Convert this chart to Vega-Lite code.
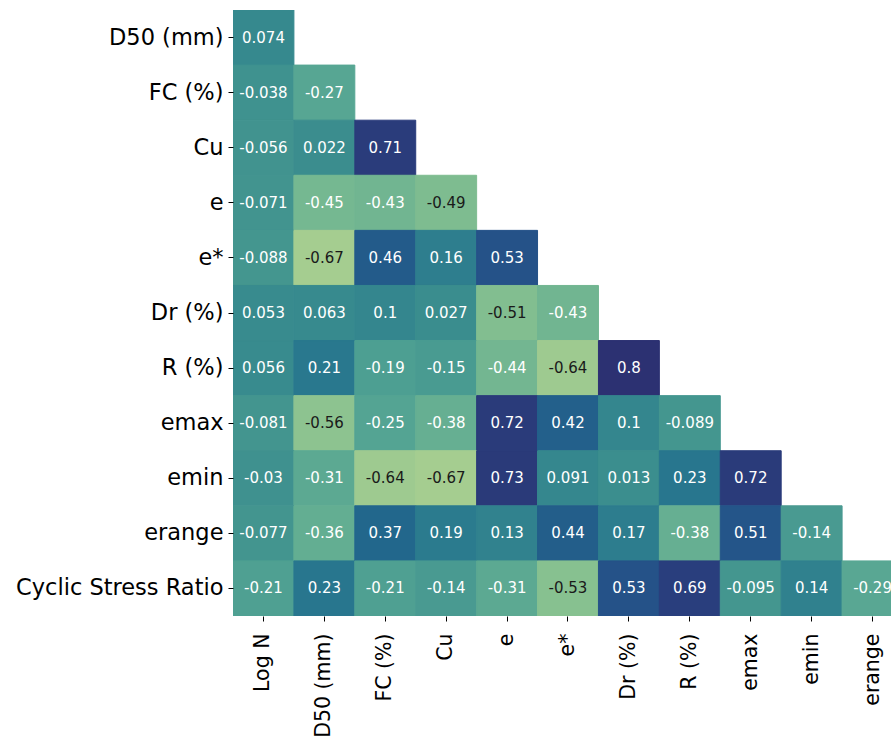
{
  "$schema": "https://vega.github.io/schema/vega-lite/v6.json",
  "width": 658,
  "height": 606,
  "autosize": "none",
  "padding": {"left": 233, "top": 10, "right": 0, "bottom": 126},
  "background": "white",
  "config": {"view": {"stroke": null}, "font": "DejaVu Sans"},
  "data": {"values": [
    {"row": "D50 (mm)", "col": "Log N", "v": 0.074},
    {"row": "FC (%)", "col": "Log N", "v": -0.038},
    {"row": "FC (%)", "col": "D50 (mm)", "v": -0.27},
    {"row": "Cu", "col": "Log N", "v": -0.056},
    {"row": "Cu", "col": "D50 (mm)", "v": 0.022},
    {"row": "Cu", "col": "FC (%)", "v": 0.71},
    {"row": "e", "col": "Log N", "v": -0.071},
    {"row": "e", "col": "D50 (mm)", "v": -0.45},
    {"row": "e", "col": "FC (%)", "v": -0.43},
    {"row": "e", "col": "Cu", "v": -0.49},
    {"row": "e*", "col": "Log N", "v": -0.088},
    {"row": "e*", "col": "D50 (mm)", "v": -0.67},
    {"row": "e*", "col": "FC (%)", "v": 0.46},
    {"row": "e*", "col": "Cu", "v": 0.16},
    {"row": "e*", "col": "e", "v": 0.53},
    {"row": "Dr (%)", "col": "Log N", "v": 0.053},
    {"row": "Dr (%)", "col": "D50 (mm)", "v": 0.063},
    {"row": "Dr (%)", "col": "FC (%)", "v": 0.1},
    {"row": "Dr (%)", "col": "Cu", "v": 0.027},
    {"row": "Dr (%)", "col": "e", "v": -0.51},
    {"row": "Dr (%)", "col": "e*", "v": -0.43},
    {"row": "R (%)", "col": "Log N", "v": 0.056},
    {"row": "R (%)", "col": "D50 (mm)", "v": 0.21},
    {"row": "R (%)", "col": "FC (%)", "v": -0.19},
    {"row": "R (%)", "col": "Cu", "v": -0.15},
    {"row": "R (%)", "col": "e", "v": -0.44},
    {"row": "R (%)", "col": "e*", "v": -0.64},
    {"row": "R (%)", "col": "Dr (%)", "v": 0.8},
    {"row": "emax", "col": "Log N", "v": -0.081},
    {"row": "emax", "col": "D50 (mm)", "v": -0.56},
    {"row": "emax", "col": "FC (%)", "v": -0.25},
    {"row": "emax", "col": "Cu", "v": -0.38},
    {"row": "emax", "col": "e", "v": 0.72},
    {"row": "emax", "col": "e*", "v": 0.42},
    {"row": "emax", "col": "Dr (%)", "v": 0.1},
    {"row": "emax", "col": "R (%)", "v": -0.089},
    {"row": "emin", "col": "Log N", "v": -0.03},
    {"row": "emin", "col": "D50 (mm)", "v": -0.31},
    {"row": "emin", "col": "FC (%)", "v": -0.64},
    {"row": "emin", "col": "Cu", "v": -0.67},
    {"row": "emin", "col": "e", "v": 0.73},
    {"row": "emin", "col": "e*", "v": 0.091},
    {"row": "emin", "col": "Dr (%)", "v": 0.013},
    {"row": "emin", "col": "R (%)", "v": 0.23},
    {"row": "emin", "col": "emax", "v": 0.72},
    {"row": "erange", "col": "Log N", "v": -0.077},
    {"row": "erange", "col": "D50 (mm)", "v": -0.36},
    {"row": "erange", "col": "FC (%)", "v": 0.37},
    {"row": "erange", "col": "Cu", "v": 0.19},
    {"row": "erange", "col": "e", "v": 0.13},
    {"row": "erange", "col": "e*", "v": 0.44},
    {"row": "erange", "col": "Dr (%)", "v": 0.17},
    {"row": "erange", "col": "R (%)", "v": -0.38},
    {"row": "erange", "col": "emax", "v": 0.51},
    {"row": "erange", "col": "emin", "v": -0.14},
    {"row": "Cyclic Stress Ratio", "col": "Log N", "v": -0.21},
    {"row": "Cyclic Stress Ratio", "col": "D50 (mm)", "v": 0.23},
    {"row": "Cyclic Stress Ratio", "col": "FC (%)", "v": -0.21},
    {"row": "Cyclic Stress Ratio", "col": "Cu", "v": -0.14},
    {"row": "Cyclic Stress Ratio", "col": "e", "v": -0.31},
    {"row": "Cyclic Stress Ratio", "col": "e*", "v": -0.53},
    {"row": "Cyclic Stress Ratio", "col": "Dr (%)", "v": 0.53},
    {"row": "Cyclic Stress Ratio", "col": "R (%)", "v": 0.69},
    {"row": "Cyclic Stress Ratio", "col": "emax", "v": -0.095},
    {"row": "Cyclic Stress Ratio", "col": "emin", "v": 0.14},
    {"row": "Cyclic Stress Ratio", "col": "erange", "v": -0.29}
  ]},
  "encoding": {
    "x": {
      "field": "col", "type": "nominal",
      "scale": {
        "domain": ["Log N", "D50 (mm)", "FC (%)", "Cu", "e", "e*", "Dr (%)", "R (%)", "emax", "emin", "erange"],
        "range": [0, 670], "paddingInner": 0, "paddingOuter": 0
      },
      "axis": {
        "title": null, "orient": "bottom", "domain": false,
        "labelAngle": -90, "labelFontSize": 20.5, "labelColor": "#000000",
        "labelFont": "DejaVu Sans",
        "tickColor": "#000000", "tickSize": 5, "tickWidth": 1, "labelPadding": 12,
        "labelOverlap": false, "labelLimit": 300,
        "labelExpr": "indexof(['e','emax','emin','erange'], datum.value) >= 0 ? datum.value + '\u00a0' : datum.value"
      }
    },
    "y": {
      "field": "row", "type": "nominal",
      "scale": {
        "domain": ["D50 (mm)", "FC (%)", "Cu", "e", "e*", "Dr (%)", "R (%)", "emax", "emin", "erange", "Cyclic Stress Ratio"],
        "paddingInner": 0, "paddingOuter": 0
      },
      "axis": {
        "title": null, "domain": false,
        "labelFontSize": 22.5, "labelColor": "#000000", "labelFont": "DejaVu Sans",
        "tickColor": "#000000", "tickSize": 5, "tickWidth": 1, "labelPadding": 5,
        "labelOverlap": false, "labelLimit": 300,
        "labelExpr": "datum.value == 'Cyclic Stress Ratio' ? datum.value : (indexof(['e','emax','emin','erange'], datum.value) >= 0 ? datum.value + '\u00a0\u00a0' : datum.value + '\u00a0')"
      }
    }
  },
  "layer": [
    {
      "mark": {"type": "rect", "clip": true, "strokeWidth": 1},
      "encoding": {
        "color": {
          "field": "v", "type": "quantitative", "legend": null,
          "scale": {
            "domain": [-0.67, 0.8],
            "range": ["#a5cd90", "#85c090", "#65af92", "#51a293", "#43958f", "#378a8e", "#29788e", "#22688c", "#245589", "#284381", "#2c3172"],
            "interpolate": "rgb"
          }
        },
        "stroke": {
          "field": "v", "type": "quantitative", "legend": null,
          "scale": {
            "domain": [-0.67, 0.8],
            "range": ["#a5cd90", "#85c090", "#65af92", "#51a293", "#43958f", "#378a8e", "#29788e", "#22688c", "#245589", "#284381", "#2c3172"],
            "interpolate": "rgb"
          }
        }
      }
    },
    {
      "mark": {"type": "text", "clip": true, "fontSize": 15, "font": "DejaVu Sans"},
      "encoding": {
        "text": {"field": "v", "type": "nominal"},
        "color": {
          "condition": {"test": "datum.v < -0.47", "value": "#1a1a1a"},
          "value": "#ffffff"
        }
      }
    }
  ]
}
